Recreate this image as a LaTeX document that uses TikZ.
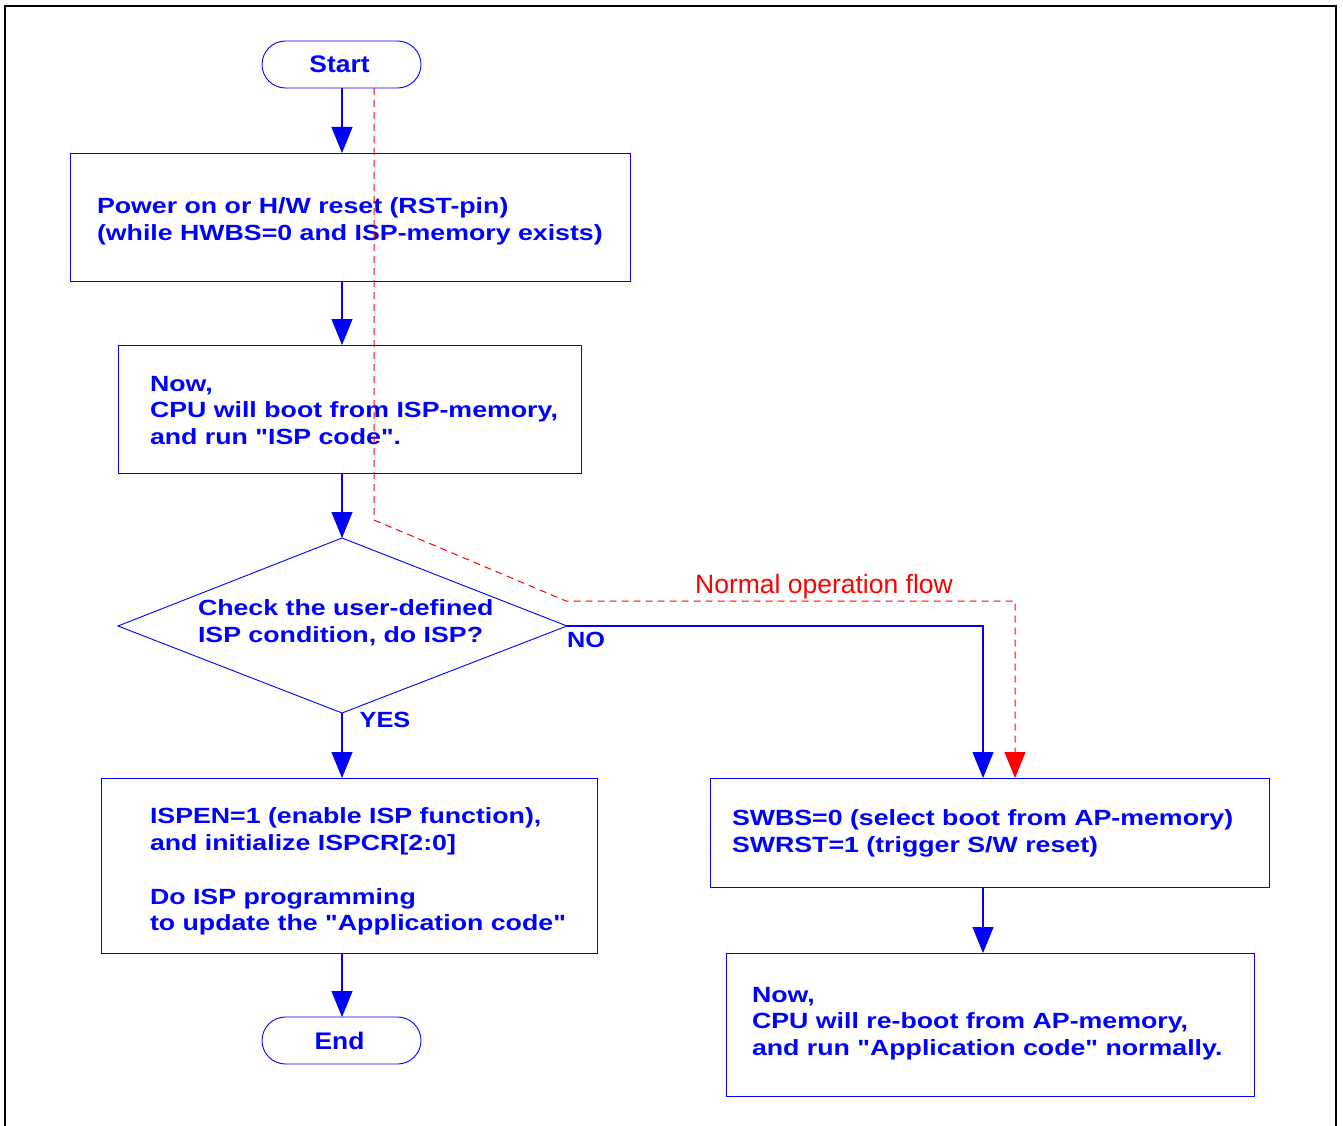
\documentclass[tikz,border=0pt]{standalone}
\usepackage{fontspec}
\setmainfont{Liberation Sans}
\newfontfamily\flowfont{Liberation Sans}[FakeStretch=1.215]
\newfontfamily\labelfont{Liberation Sans}[FakeStretch=1.15]
\newfontfamily\termfont{Liberation Sans}[FakeStretch=1.1]
\usetikzlibrary{arrows.meta}

\begin{document}
\begin{tikzpicture}[x=1pt,y=-1pt,
  every node/.style={inner sep=0pt, outer sep=0pt},
  tip/.style={-{Triangle[length=26pt,width=21pt]}},
  flowline/.style={blue, line width=1.1pt, tip},
  normalflow/.style={red, line width=1pt, dash pattern=on 7pt off 5pt, tip},
  procbox/.style={draw=blue, line width=0.9pt, rectangle},
  terminal/.style={draw=blue, line width=0.9pt, rectangle, rounded corners=23.5pt,
    minimum width=159pt, minimum height=47pt, text=blue,
    font=\termfont\bfseries\fontsize{24}{28}\selectfont},
  boxtext/.style={text=blue, align=left, anchor=north west,
    font=\flowfont\bfseries\fontsize{22}{26.7}\selectfont},
  branchlabel/.style={text=blue, font=\labelfont\bfseries\fontsize{22}{26.5}\selectfont},
]
\useasboundingbox (0,0) rectangle (1343,1126);

% frame
\draw[black, line width=2pt] (5,1127) -- (5,6.5) -- (1336,6.5) -- (1336,1127);

% terminals (labels sit slightly left of centre)
\node[terminal] (start) at (341.5,64.5) {\raisebox{-1pt}{Start}\hspace*{4pt}};
\node[terminal] (finish) at (341.5,1040.5) {\raisebox{-1pt}{End}\hspace*{4pt}};

% process boxes
\node[procbox, minimum width=560pt, minimum height=128pt] (power) at (350,217) {};
\node[procbox, minimum width=463pt, minimum height=128pt] (ispboot) at (349.5,409) {};
\node[procbox, minimum width=496pt, minimum height=175pt] (ispprog) at (349,865.5) {};
\node[procbox, minimum width=559pt, minimum height=109pt] (swreset) at (989.5,832.5) {};
\node[procbox, minimum width=528pt, minimum height=143pt] (apboot) at (990,1024.5) {};

% decision diamond
\coordinate (dtop) at (342,538);
\coordinate (dleft) at (118,626);
\coordinate (dright) at (567,626);
\coordinate (dbottom) at (342,713);
\draw[blue, line width=0.9pt] (dtop) -- (dright) -- (dbottom) -- (dleft) -- cycle;

% texts
\node[boxtext] (t1) at (97,198) {Power on or H/W reset (RST-pin)\\(while HWBS=0 and ISP-memory exists)};
\node[boxtext] (t2) at (150,376) {Now,\\CPU will boot from ISP-memory,\\and run "ISP code".};
\node[boxtext] (t3) at (198,600) {Check the user-defined\\ISP condition, do ISP?};
\node[boxtext] (t4) at (150,808) {ISPEN=1 (enable ISP function),\\and initialize ISPCR[2:0]\\[26.7pt]Do ISP programming\\to update the "Application code"};
\node[boxtext] (t5) at (732,810) {SWBS=0 (select boot from AP-memory)\\SWRST=1 (trigger S/W reset)};
\node[boxtext] (t6) at (752,987) {Now,\\CPU will re-boot from AP-memory,\\and run "Application code" normally.};

\node[branchlabel] (nolabel) at (586,640) {NO};
\node[branchlabel] (yeslabel) at (385,720) {YES};
\node[text=red, font=\fontsize{26.5}{30}\selectfont] (normallabel) at (824,587) {Normal operation flow};

% main flow
\draw[flowline] (start.south -| 342,0) -- (power.north -| 342,0);
\draw[flowline] (power.south -| 342,0) -- (ispboot.north -| 342,0);
\draw[flowline] (ispboot.south -| 342,0) -- (dtop);
\draw[flowline] (dbottom) -- (ispprog.north -| 342,0);
\draw[flowline] (ispprog.south -| 342,0) -- (finish.north -| 342,0);
\draw[flowline] (dright) -- (983,626) -- (swreset.north -| 983,0);
\draw[flowline] (swreset.south -| 983,0) -- (apboot.north -| 983,0);

% normal operation path
\draw[normalflow] (start.south -| 374,0) -- (374,520) -- (566,601) -- (1015,601) -- (swreset.north -| 1015,0);
\end{tikzpicture}
\end{document}
